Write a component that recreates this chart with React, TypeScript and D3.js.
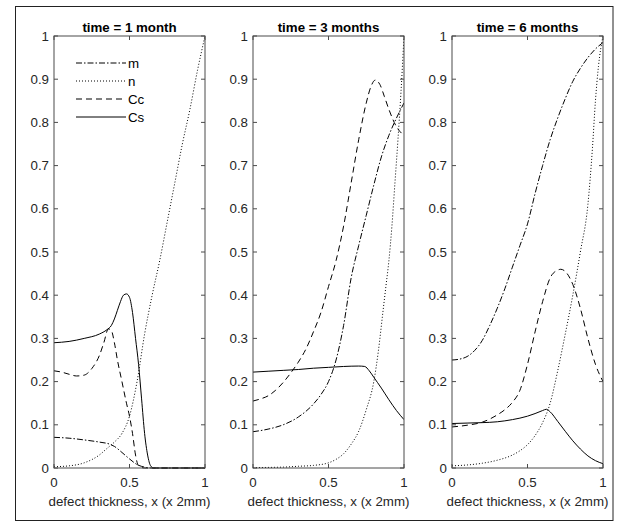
import React from "react";
import * as d3 from "d3";

type Pt = [number, number];

const panelTitles = ["time = 1 month", "time = 3 months", "time = 6 months"];
const seriesNames = ["m", "n", "Cc", "Cs"];
const yTicks = [0, 0.1, 0.2, 0.3, 0.4, 0.5, 0.6, 0.7, 0.8, 0.9, 1];
const xTicks = [0, 0.5, 1];
const xLabel = "defect thickness, x (x 2mm)";

// time = 1 month
const m1: Pt[] = [[0,0.071],[0.1,0.069],[0.2,0.065],[0.3,0.06],[0.37,0.055],[0.4,0.05],[0.45,0.036],[0.5,0.021],[0.55,0.008],[0.6,0.002],[0.65,0],[1,0]];
const n1: Pt[] = [[0,0.003],[0.1,0.005],[0.2,0.012],[0.3,0.03],[0.35,0.045],[0.4,0.06],[0.45,0.08],[0.5,0.12],[0.55,0.2],[0.6,0.31],[0.65,0.4],[0.7,0.48],[0.75,0.57],[0.8,0.66],[0.85,0.75],[0.9,0.83],[0.95,0.92],[1,1]];
const cc1: Pt[] = [[0,0.225],[0.05,0.222],[0.1,0.217],[0.15,0.213],[0.2,0.215],[0.25,0.23],[0.3,0.26],[0.33,0.29],[0.36,0.322],[0.38,0.318],[0.4,0.29],[0.42,0.25],[0.45,0.2],[0.48,0.15],[0.5,0.12],[0.52,0.08],[0.54,0.03],[0.56,0.005],[0.6,0],[1,0]];
const cs1: Pt[] = [[0,0.29],[0.1,0.293],[0.2,0.3],[0.3,0.31],[0.35,0.32],[0.38,0.33],[0.4,0.345],[0.42,0.365],[0.44,0.385],[0.46,0.4],[0.48,0.403],[0.5,0.395],[0.52,0.36],[0.54,0.3],[0.56,0.24],[0.58,0.16],[0.6,0.08],[0.62,0.03],[0.64,0.005],[0.66,0],[1,0]];

// time = 3 months
const m3: Pt[] = [[0,0.084],[0.1,0.09],[0.2,0.1],[0.3,0.118],[0.4,0.148],[0.45,0.17],[0.5,0.2],[0.55,0.25],[0.6,0.33],[0.65,0.44],[0.7,0.515],[0.75,0.585],[0.8,0.655],[0.85,0.72],[0.9,0.77],[0.95,0.81],[1,0.845]];
const n3: Pt[] = [[0,0.001],[0.2,0.002],[0.3,0.004],[0.4,0.006],[0.5,0.012],[0.55,0.02],[0.6,0.033],[0.65,0.055],[0.7,0.085],[0.75,0.135],[0.8,0.2],[0.83,0.27],[0.86,0.36],[0.88,0.42],[0.9,0.48],[0.92,0.56],[0.94,0.66],[0.96,0.76],[0.98,0.87],[1,1]];
const cc3: Pt[] = [[0,0.155],[0.05,0.16],[0.1,0.167],[0.15,0.18],[0.2,0.198],[0.25,0.22],[0.3,0.245],[0.35,0.275],[0.4,0.315],[0.45,0.36],[0.5,0.42],[0.55,0.48],[0.6,0.56],[0.65,0.66],[0.7,0.76],[0.75,0.845],[0.78,0.882],[0.81,0.898],[0.84,0.888],[0.87,0.86],[0.9,0.83],[0.95,0.79],[1,0.77]];
const cs3: Pt[] = [[0,0.222],[0.1,0.224],[0.2,0.226],[0.3,0.228],[0.4,0.231],[0.5,0.233],[0.6,0.235],[0.7,0.236],[0.74,0.235],[0.77,0.225],[0.8,0.21],[0.85,0.185],[0.9,0.158],[0.95,0.133],[1,0.112]];

// time = 6 months
const m6: Pt[] = [[0,0.25],[0.05,0.252],[0.1,0.258],[0.15,0.272],[0.2,0.295],[0.25,0.33],[0.3,0.37],[0.35,0.415],[0.4,0.465],[0.45,0.515],[0.5,0.565],[0.55,0.635],[0.6,0.7],[0.65,0.76],[0.7,0.81],[0.75,0.855],[0.8,0.895],[0.85,0.925],[0.9,0.95],[0.95,0.97],[1,0.985]];
const n6: Pt[] = [[0,0.005],[0.1,0.007],[0.2,0.011],[0.3,0.018],[0.4,0.03],[0.45,0.04],[0.5,0.054],[0.55,0.075],[0.6,0.105],[0.65,0.15],[0.7,0.225],[0.75,0.31],[0.8,0.4],[0.85,0.5],[0.9,0.61],[0.93,0.74],[0.95,0.85],[0.97,0.93],[1,1]];
const cc6: Pt[] = [[0,0.095],[0.1,0.099],[0.2,0.106],[0.3,0.123],[0.35,0.135],[0.4,0.152],[0.45,0.18],[0.5,0.24],[0.55,0.315],[0.6,0.385],[0.65,0.44],[0.7,0.458],[0.72,0.46],[0.75,0.455],[0.8,0.425],[0.85,0.37],[0.9,0.3],[0.95,0.24],[1,0.2]];
const cs6: Pt[] = [[0,0.103],[0.1,0.104],[0.2,0.105],[0.3,0.107],[0.4,0.112],[0.5,0.12],[0.55,0.126],[0.6,0.133],[0.625,0.136],[0.65,0.13],[0.7,0.108],[0.75,0.085],[0.8,0.063],[0.85,0.044],[0.9,0.028],[0.95,0.017],[1,0.01]];

const panelData: Pt[][][] = [
  [m1, n1, cc1, cs1],
  [m3, n3, cc3, cs3],
  [m6, n6, cc6, cs6],
];

const dashes = ["6,2,1.5,2", "1,2", "6,4", ""];
const panelLefts = [54, 253, 452];
const panelWidth = 151;
const plotTop = 36;
const plotBottom = 468;
const font = "'Liberation Sans', Arial, Helvetica, sans-serif";
const axisColor = "#4a4a4a";
const textColor = "#262626";
const fs = 13.3;

function Panel({ idx }: { idx: number }) {
  const left = panelLefts[idx];
  const right = left + panelWidth;
  const x = d3.scaleLinear().domain([0, 1]).range([left, right]);
  const y = d3.scaleLinear().domain([0, 1]).range([plotBottom, plotTop]);
  const line = d3
    .line<Pt>()
    .x((d) => x(d[0]))
    .y((d) => y(d[1]))
    .curve(d3.curveMonotoneX);
  const tl = 4;
  return (
    <g>
      <defs>
        <clipPath id={`clip${idx}`}>
          <rect x={left} y={plotTop - 1} width={panelWidth} height={plotBottom - plotTop + 2} />
        </clipPath>
      </defs>
      <g clipPath={`url(#clip${idx})`}>
        {panelData[idx].map((s, i) => (
          <path
            key={i}
            d={line(s) || ""}
            fill="none"
            stroke="#000"
            strokeWidth={1}
            strokeDasharray={dashes[i] || undefined}
          />
        ))}
      </g>
      <rect x={left} y={plotTop} width={panelWidth} height={plotBottom - plotTop} fill="none" stroke={axisColor} strokeWidth={1} />
      {yTicks.map((t) => (
        <g key={"y" + t}>
          <line x1={left} x2={left + tl} y1={y(t)} y2={y(t)} stroke={axisColor} />
          <line x1={right} x2={right - tl} y1={y(t)} y2={y(t)} stroke={axisColor} />
          <text x={left - 5} y={y(t)} dy="0.35em" textAnchor="end" fontSize={fs} fill={textColor} fontFamily={font}>
            {String(t)}
          </text>
        </g>
      ))}
      {xTicks.map((t) => (
        <g key={"x" + t}>
          <line x1={x(t)} x2={x(t)} y1={plotBottom} y2={plotBottom - tl} stroke={axisColor} />
          <line x1={x(t)} x2={x(t)} y1={plotTop} y2={plotTop + tl} stroke={axisColor} />
          <text x={x(t)} y={plotBottom + 14} dy="0.35em" textAnchor="middle" fontSize={fs} fill={textColor} fontFamily={font}>
            {String(t)}
          </text>
        </g>
      ))}
      <text x={(left + right) / 2} y={plotBottom + 33} dy="0.35em" textAnchor="middle" fontSize={fs} fill={textColor} fontFamily={font}>
        {xLabel}
      </text>
      <text x={(left + right) / 2} y={27} dy="0.35em" textAnchor="middle" fontSize={fs} fontWeight="bold" fill="#000" fontFamily={font}>
        {panelTitles[idx]}
      </text>
      {idx === 0 &&
        seriesNames.map((nm, i) => {
          const ly = 63 + i * 18;
          return (
            <g key={nm}>
              <line x1={left + 22} x2={left + 72} y1={ly} y2={ly} stroke="#000" strokeWidth={1} strokeDasharray={dashes[i] || undefined} />
              <text x={left + 74} y={ly} dy="0.35em" fontSize={fs} fill="#000" fontFamily={font}>
                {nm}
              </text>
            </g>
          );
        })}
    </g>
  );
}

export default function App() {
  return (
    <svg
      width={624}
      height={522}
      style={{ position: "absolute", left: 0, top: 0, background: "#fff" }}
    >
      <rect x={0} y={0} width={624} height={522} fill="#fff" />
      <rect x={15.5} y={6.5} width={597.5} height={514} fill="none" stroke="#222" strokeWidth={1} />
      {[0, 1, 2].map((i) => (
        <Panel key={i} idx={i} />
      ))}
    </svg>
  );
}
